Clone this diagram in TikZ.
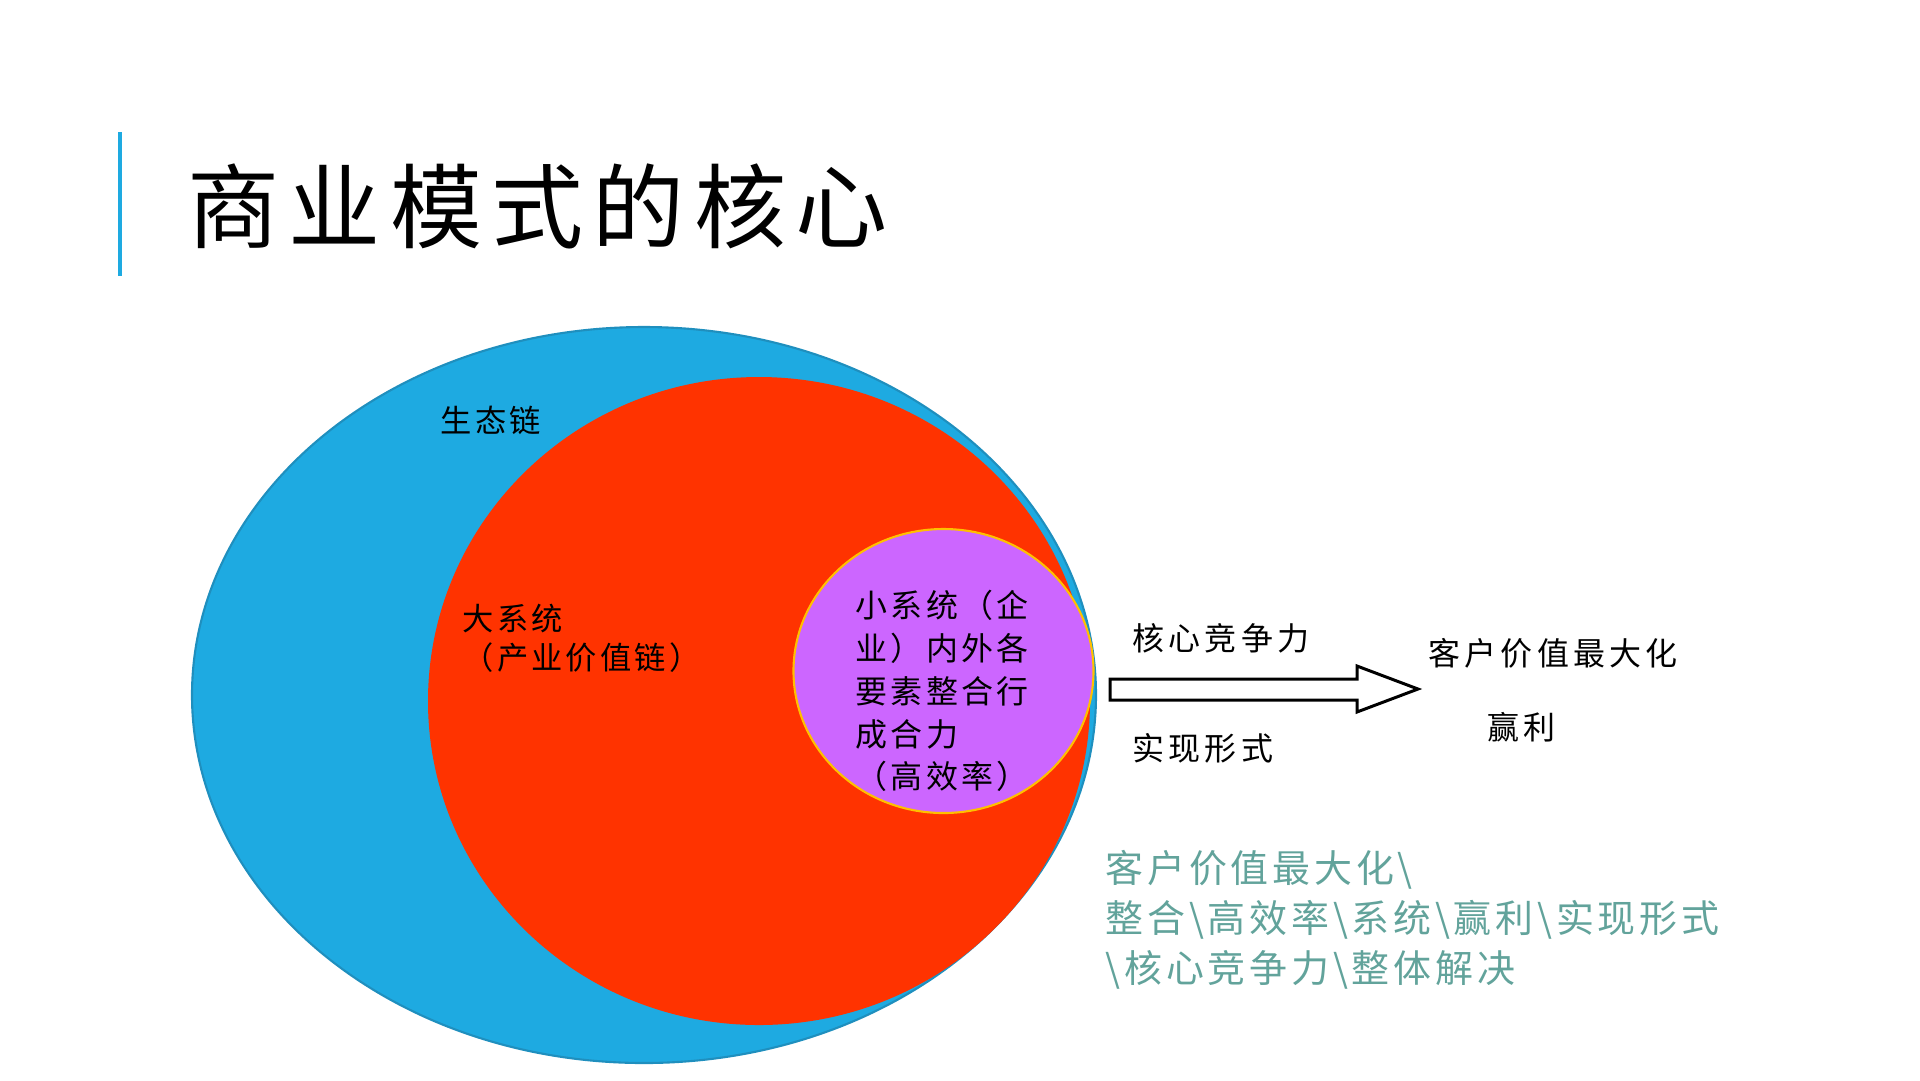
\documentclass[tikz,border=0pt]{standalone}
\usepackage{fontspec}
\newfontfamily\cjk{Noto Sans CJK SC}[LetterSpace=10]
\newfontfamily\cjkwide{Noto Sans CJK SC}[LetterSpace=13]
\newfontfamily\cjktitle{Noto Sans CJK SC}[LetterSpace=10]
\usetikzlibrary{positioning}
\definecolor{ecoblue}{HTML}{1EAAE1}
\definecolor{ecoline}{HTML}{1F8FBE}
\definecolor{bigred}{HTML}{FF3300}
\definecolor{smallviolet}{HTML}{CC66FF}
\definecolor{smallrim}{HTML}{FFC000}
\definecolor{keyteal}{HTML}{62A39B}
\tikzset{
	px/.style={x=0.1mm, y=-0.1mm},
	lbl/.style={inner sep=0pt, anchor=west, align=left,
		font=\cjk\fontsize{8.9pt}{11pt}\selectfont},
	inlbl/.style={lbl, font=\cjk\fontsize{9.1pt}{12.2pt}\selectfont},
	outlbl/.style={lbl, font=\cjkwide\fontsize{9.1pt}{11pt}\selectfont},
	keylbl/.style={lbl, text=keyteal, font=\cjk\fontsize{10.8pt}{14.2pt}\selectfont},
	zone/.style={line width=0.6pt},
	blockarrow/.style={draw=black, fill=white, line width=0.85pt, line join=miter}
}

\begin{document}
\begin{tikzpicture}[px]
   \useasboundingbox (0,0) rectangle (1920,1080);
   % title
   \draw[ecoblue, line width=0.9pt] (120,132) -- (120,276);
   \node[inner sep=0pt, anchor=west, font=\cjktitle\fontsize{26.2pt}{30pt}\selectfont] (title) at (187,206) {商业模式的核心};
   % nested systems
   \filldraw[zone, fill=ecoblue, draw=ecoline] (644,695) ellipse [x radius=452, y radius=368];
   \fill[bigred] (759,701) ellipse [x radius=331, y radius=324];
   \filldraw[zone, fill=smallviolet, draw=smallrim] (943.5,671) ellipse [x radius=150, y radius=142];
   \node[lbl] (eco) at (440,420) {生态链};
   \node[lbl] (big) at (462,638) {大系统\\ （产业价值链）};
   \node[inlbl] (small) at (855,691) {小系统（企\\业）内外各\\要素整合行\\成合力\\（高效率）};
   % arrow
   \draw[blockarrow] (1110,679) -- (1357,679) -- (1357,666) -- (1418,689)
      -- (1357,712) -- (1357,700) -- (1110,700) -- cycle;
   \node[outlbl] (core) at (1132,638) {核心竞争力};
   \node[outlbl] (form) at (1132,748) {实现形式};
   \node[outlbl] (value) at (1428,653) {客户价值最大化};
   \node[outlbl] (profit) at (1487,727) {赢利};
   % key words
   \node[keylbl] (keys) at (1105,920) {客户价值最大化\textbackslash\\整合\textbackslash 高效率\textbackslash 系统\textbackslash 赢利\textbackslash 实现形式\\\textbackslash 核心竞争力\textbackslash 整体解决};
\end{tikzpicture}
\end{document}
